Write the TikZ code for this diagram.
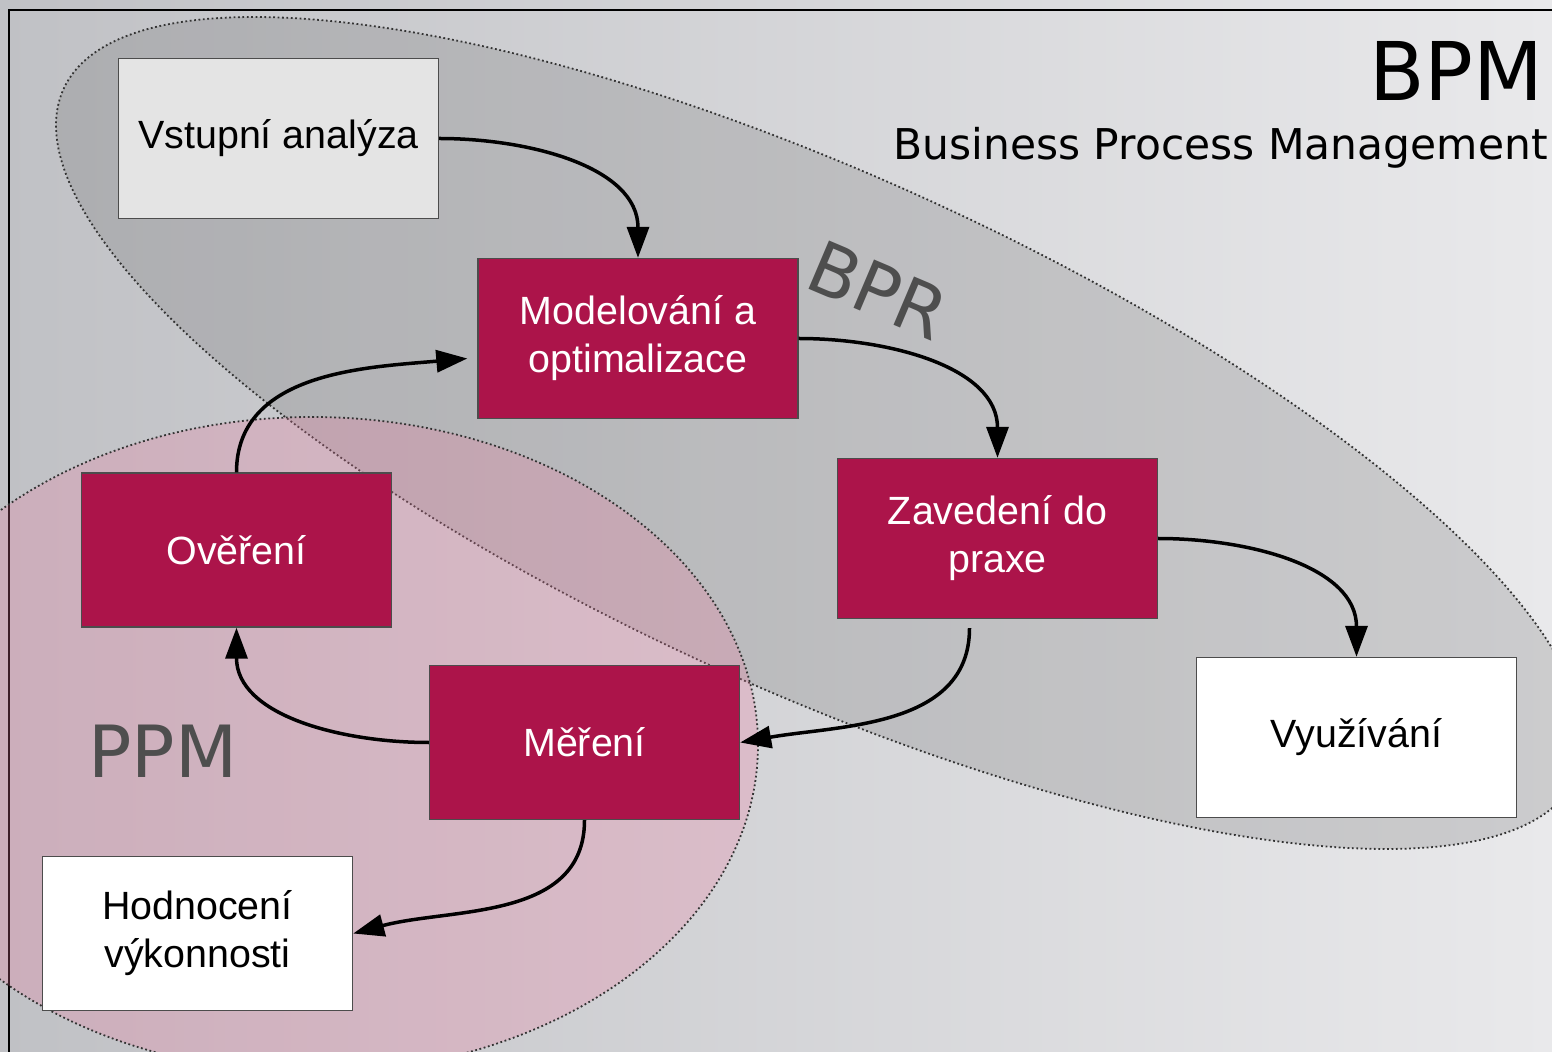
\documentclass[tikz,border=0pt]{standalone}
\usepackage{fontspec}
\setmainfont{Liberation Sans}
\newfontfamily\vera{DejaVu Sans}
\usetikzlibrary{arrows.meta}

\definecolor{bpmred}{RGB}{172,20,74}
\definecolor{ppmpink}{RGB}{240,120,160}
\definecolor{bprgray}{RGB}{102,102,102}
\definecolor{lightbox}{RGB}{228,228,228}
\definecolor{labelgray}{RGB}{78,78,78}
\definecolor{bgleft}{RGB}{192,193,197}
\definecolor{bgright}{RGB}{233,233,235}

\tikzset{
  box/.style={draw=black!70, line width=0.7pt, minimum width=160pt, minimum height=80pt,
    inner sep=0pt, align=center, font=\fontsize{19.7}{24}\selectfont},
  small/.style={minimum width=155pt, minimum height=77pt},
  redbox/.style={box, fill=bpmred, text=white},
  whitebox/.style={box, fill=white},
  greybox/.style={box, fill=lightbox},
  dots/.style={draw=black!80, line width=0.9pt, dash pattern=on 0.9pt off 1.3pt},
  arr/.style={line width=1.75pt, -{Triangle[length=15.5pt,width=11pt]}},
  biglabel/.style={text=labelgray, inner sep=0pt, font=\vera\fontsize{36}{40}\selectfont}
}

\begin{document}
\begin{tikzpicture}[x=0.5pt, y=-0.5pt]
    \useasboundingbox (0,0) rectangle (1552,1052);
    \shade[left color=bgleft, right color=bgright] (0,0) rectangle (1552,1052);
    \draw[line width=1pt] (9,1052) -- (9,10) -- (1552,10);

    % BPR and PPM areas
    \filldraw[dots, fill=bprgray, fill opacity=0.22, rotate around={-24.45:(820,433)}]
      (820,433) ellipse (831 and 257);
    \filldraw[dots, fill=ppmpink, fill opacity=0.25] (312,745) ellipse (446 and 328);

    \node[biglabel, rotate=-23] (bpr) at (878,290) {BPR};
    \node[biglabel, anchor=base west] (ppm) at (88,777) {PPM};

    \node[anchor=base east, inner sep=0pt, font=\vera\fontsize{40.5}{48}\selectfont] (bpm) at (1544,101) {BPM};
    \node[anchor=base east, inner sep=0pt, font=\vera\fontsize{21.2}{25}\selectfont] (bpmtext) at (1548,160) {Business Process Management};

    \node[greybox] (vstup) at (278.5,138.5) {Vstupní analýza};
    \node[redbox] (model) at (638,338.5) {Modelování a\\optimalizace};
    \node[redbox] (zaved) at (997.5,538.5) {Zavedení do\\praxe};
    \node[whitebox] (vyuz) at (1356.5,737.5) {Využívání};
    \node[redbox, small] (over) at (236.5,550) {Ověření};
    \node[redbox, small] (mer) at (584.5,742.5) {Měření};
    \node[whitebox, small] (hodn) at (197.5,933.5) {Hodnocení\\výkonnosti};

    \coordinate (zs) at ([xshift=-14pt, yshift=-4.5pt]zaved.south);
    \coordinate (mw) at ([xshift=-5pt, yshift=-10pt]model.west);

    \draw[arr] (vstup.east) to[out=0, in=90] (model.north);
    \draw[arr] (model.east) to[out=0, in=90] (zaved.north);
    \draw[arr] (zaved.east) to[out=0, in=90] (vyuz.north);
    \draw[arr] (zs) to[out=-90, in=10] (mer.east);
    \draw[arr] (mer.west) to[out=180, in=-90] (over.south);
    \draw[arr] (over.north) to[out=90, in=185] (mw);
    \draw[arr] (mer.south) to[out=-90, in=15] (hodn.east);
\end{tikzpicture}
\end{document}
